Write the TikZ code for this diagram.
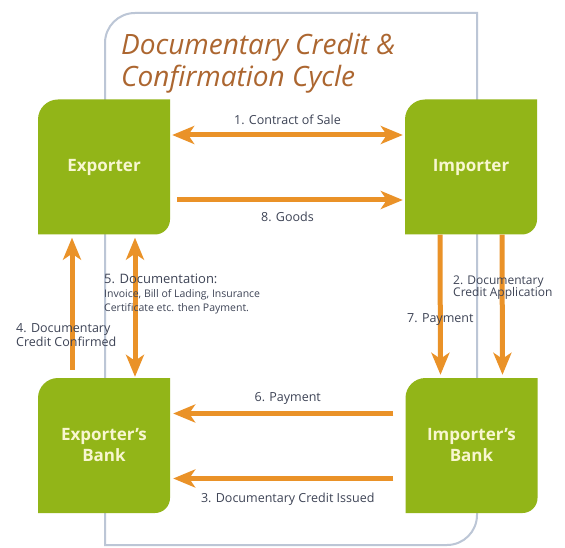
\documentclass[tikz,border=0pt]{standalone}
\usepackage{fontspec}
\setmainfont{Open Sans}
\usetikzlibrary{arrows.meta}
\definecolor{boxgreen}{RGB}{146,181,24}
\definecolor{boxtext}{RGB}{248,246,208}
\definecolor{flowor}{RGB}{234,146,40}
\definecolor{framegray}{RGB}{188,198,214}
\definecolor{titlebrown}{RGB}{172,102,48}
\definecolor{labelgray}{RGB}{62,68,86}

\begin{document}
\begin{tikzpicture}[x=1pt,y=1pt,
    party/.style={minimum width=132pt, minimum height=135pt, inner sep=0pt,
      text=boxtext, align=center, font=\fontsize{17}{21}\selectfont\bfseries,
      path picture={\fill[boxgreen] (path picture bounding box.south west)
        -- ([yshift=-20pt]path picture bounding box.north west)
        arc[start angle=180,end angle=90,radius=20pt]
        -- (path picture bounding box.north east)
        -- ([yshift=15pt]path picture bounding box.south east)
        arc[start angle=0,end angle=-90,radius=15pt] -- cycle;}},
    flow/.style={draw=flowor, line width=5pt},
    lbl/.style={text=labelgray, inner sep=0pt, align=left, font=\fontsize{12.5}{14}\selectfont},
    >={Stealth[length=22pt,width=18pt,inset=6pt]}]
    \fill[white] (0,0) rectangle (565,547);
    \useasboundingbox (0,0) rectangle (565,547);
    % outer frame
    \draw[framegray, line width=2pt] (105,2) -- (105,504) arc[start angle=180,end angle=90,radius=30]
      -- (477,534) -- (477,32) arc[start angle=0,end angle=-90,radius=30] -- cycle;
    \node[anchor=north west, inner sep=0pt, text=titlebrown, align=left,
      font=\fontsize{28}{32}\selectfont\itshape] (title) at (121,514) {Documentary Credit \&\\Confirmation Cycle};

    \node[party] (exporter) at (104,380) {Exporter};
    \node[party] (importer) at (471,380) {Importer};
    \node[party] (expbank) at (104,101.5) {Exporter's\\Bank};
    \node[party] (impbank) at (471.5,101.5) {Importer's\\Bank};

    \draw[flow, <->, shorten <=2pt, shorten >=2pt] ([yshift=32pt]exporter.east) -- node[lbl, above=8pt] (contract) {1. Contract of Sale} ([yshift=32pt]importer.west);
    \draw[flow, ->, shorten <=7pt, shorten >=2pt] ([yshift=-33pt]exporter.east) -- node[lbl, below=10pt] (goods) {8. Goods} ([yshift=-33pt]importer.west);
    \draw[flow, ->, shorten <=12pt, shorten >=3pt] ([yshift=32pt]impbank.west) -- node[lbl, above=6pt] (payment) {6. Payment} ([yshift=32pt]expbank.east);
    \draw[flow, ->, shorten <=12pt, shorten >=3pt] ([yshift=-33pt]impbank.west) -- node[lbl, below=12pt] (issued) {3. Documentary Credit Issued} ([yshift=-33pt]expbank.east);

    \draw[flow, ->, shorten <=8pt, shorten >=3pt] ([xshift=-32pt]expbank.north) -- ([xshift=-32pt]exporter.south);
    \draw[flow, <->, shorten <=3pt, shorten >=1pt] ([xshift=31pt]exporter.south) -- ([xshift=31pt]expbank.north);
    \draw[flow, ->, shorten >=3pt] ([xshift=-31pt]importer.south) -- ([xshift=-31pt]impbank.north);
    \draw[flow, ->, shorten >=3pt] ([xshift=31pt]importer.south) -- ([xshift=31pt]impbank.north);

    \node[lbl, anchor=west] (docs) at (104,253) {\fontsize{13}{13}\selectfont 5. Documentation:\\
      \fontsize{10.5}{14}\selectfont Invoice, Bill of Lading, Insurance\\
      \fontsize{10.5}{13}\selectfont Certificate etc. then Payment.};
    \node[lbl, anchor=west] (confirmed) at (16,212) {4. Documentary\\Credit Confirmed};
    \node[lbl, anchor=west, font=\fontsize{12}{12}\selectfont] (application) at (453,259) {2. Documentary\\Credit Application};
    \node[lbl, anchor=west] (payment7) at (407,227) {7. Payment};
\end{tikzpicture}
\end{document}
